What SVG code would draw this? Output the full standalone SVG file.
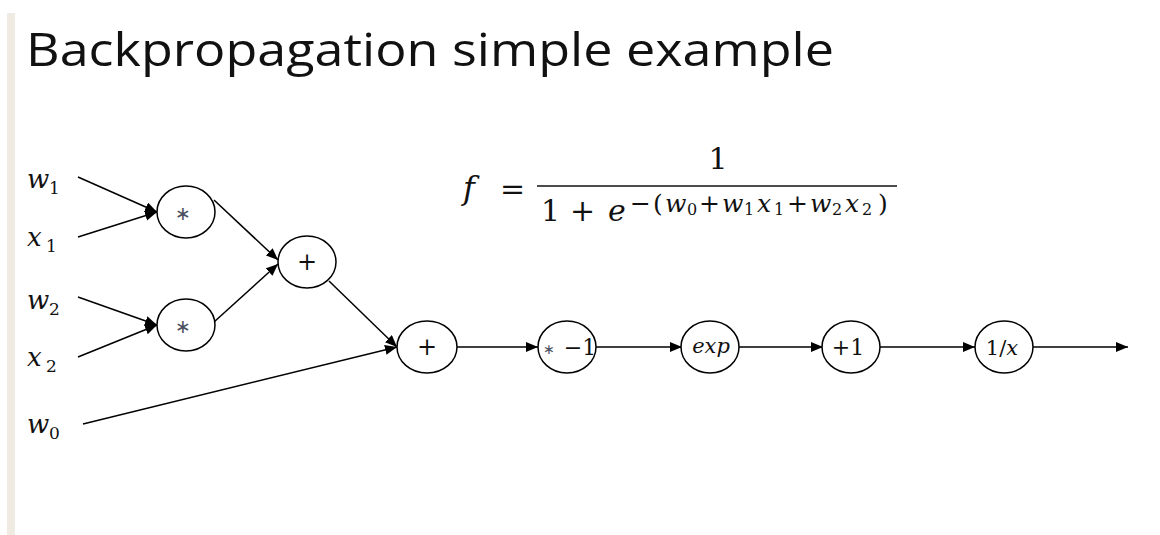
<svg xmlns="http://www.w3.org/2000/svg" width="1160" height="535" viewBox="0 0 1160 535">
  <defs>
    <marker id="arr" markerUnits="userSpaceOnUse" markerWidth="13" markerHeight="11" refX="12" refY="5" orient="auto">
      <path d="M0,0 L12,5 L0,10 z" fill="#000"/>
    </marker>
    <style>
      .node { fill: #fff; stroke: #000; stroke-width: 1.5; }
      .edge { stroke: #000; stroke-width: 1.5; fill: none; marker-end: url(#arr); }
      .math { font-family: "DejaVu Serif", "Liberation Serif", serif; fill: #111; }
      .it { font-style: italic; }
      .lbl { font-family: "DejaVu Serif", "Liberation Serif", serif; fill: #111; text-anchor: middle; }
      .star { font-family: "DejaVu Sans", sans-serif; fill: #4a5060; text-anchor: middle; }
    </style>
  </defs>
  <rect width="1160" height="535" fill="#fff"/>
  <rect x="7" y="13" width="8" height="522" fill="#efebe2"/>
  <text x="26" y="66" font-family="'Open Sans', 'Noto Sans', sans-serif" font-size="45" fill="#111" textLength="808" lengthAdjust="spacingAndGlyphs">Backpropagation simple example</text>

  <!-- formula -->
  <g id="formula" class="math">
    <text x="463" y="199" font-size="32" class="it">f</text>
    <text x="500" y="199" font-size="30">=</text>
    <text x="718" y="169" font-size="30" text-anchor="middle">1</text>
    <line x1="537" y1="186" x2="897" y2="186" stroke="#111" stroke-width="1.6"/>
    <text x="541" y="221" font-size="30">1</text>
    <text x="570" y="221" font-size="30">+</text>
    <text x="608" y="221" font-size="30" class="it">e</text>
    <text y="212" font-size="25"><tspan x="630">−</tspan><tspan x="653">(</tspan><tspan x="665" class="it">w</tspan><tspan x="687" dy="3" font-size="16">0</tspan><tspan x="699" dy="-3">+</tspan><tspan x="722" class="it">w</tspan><tspan x="744" dy="3" font-size="16">1</tspan><tspan x="757" dy="-3" class="it">x</tspan><tspan x="774" dy="3" font-size="16">1</tspan><tspan x="787" dy="-3">+</tspan><tspan x="810" class="it">w</tspan><tspan x="832" dy="3" font-size="16">2</tspan><tspan x="845" dy="-3" class="it">x</tspan><tspan x="862" dy="3" font-size="16">2</tspan><tspan x="878" dy="-3">)</tspan></text>
  </g>

  <!-- inputs -->
  <g id="in-w1" class="math"><text x="27" y="188" font-size="26" class="it">w</text><text x="49" y="194" font-size="17">1</text></g>
  <g id="in-x1" class="math"><text x="27" y="246" font-size="26" class="it">x</text><text x="46" y="252" font-size="17">1</text></g>
  <g id="in-w2" class="math"><text x="27" y="309" font-size="26" class="it">w</text><text x="49" y="315" font-size="17">2</text></g>
  <g id="in-x2" class="math"><text x="27" y="366" font-size="26" class="it">x</text><text x="46" y="372" font-size="17">2</text></g>
  <g id="in-w0" class="math"><text x="27" y="433" font-size="26" class="it">w</text><text x="49" y="439" font-size="17">0</text></g>

  <!-- connectors -->
  <g id="connectors">
    <line class="edge" x1="78" y1="177" x2="157" y2="212"/>
    <line class="edge" x1="78" y1="237" x2="157" y2="212"/>
    <line class="edge" x1="78" y1="297" x2="157" y2="325"/>
    <line class="edge" x1="78" y1="357" x2="157" y2="325"/>
    <line class="edge" x1="214" y1="200" x2="278" y2="260"/>
    <line class="edge" x1="214" y1="322" x2="278" y2="264"/>
    <line class="edge" x1="329" y1="281" x2="397" y2="347"/>
    <line class="edge" x1="83" y1="424" x2="397" y2="347"/>
    <line class="edge" x1="457" y1="347" x2="538" y2="347"/>
    <line class="edge" x1="596" y1="347" x2="682" y2="347"/>
    <line class="edge" x1="739" y1="347" x2="823" y2="347"/>
    <line class="edge" x1="880" y1="347" x2="975" y2="347"/>
    <line class="edge" x1="1033" y1="347" x2="1128" y2="347"/>
  </g>

  <!-- nodes -->
  <g id="mul1"><ellipse class="node" cx="186" cy="212" rx="29" ry="26"/><text class="star" x="183" y="220" font-size="19">∗</text></g>
  <g id="mul2"><ellipse class="node" cx="186" cy="325" rx="29" ry="26"/><text class="star" x="183" y="333" font-size="19">∗</text></g>
  <g id="add1"><ellipse class="node" cx="307" cy="262" rx="29" ry="26"/><text class="lbl" x="307" y="270" font-size="24">+</text></g>
  <g id="add2"><ellipse class="node" cx="427" cy="347" rx="30" ry="26"/><text class="lbl" x="427" y="355" font-size="24">+</text></g>
  <g id="neg"><ellipse class="node" cx="567" cy="347" rx="29" ry="26"/><text class="star" x="549" y="354" font-size="14">∗</text><text class="lbl" x="580" y="355" font-size="22">−1</text></g>
  <g id="exp"><ellipse class="node" cx="710" cy="347" rx="29" ry="26"/><text class="lbl it" x="711" y="353" font-size="21">exp</text></g>
  <g id="plus1"><ellipse class="node" cx="851" cy="347" rx="29" ry="26"/><text class="lbl" x="848" y="355" font-size="22">+1</text></g>
  <g id="inv"><ellipse class="node" cx="1004" cy="347" rx="29" ry="26"/><text class="lbl" x="1002" y="355" font-size="21">1/<tspan class="it">x</tspan></text></g>
</svg>
